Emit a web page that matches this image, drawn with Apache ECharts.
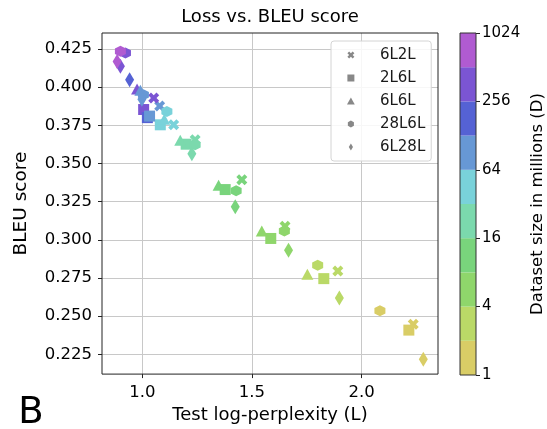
<!DOCTYPE html>
<html>
<head>
<meta charset="utf-8">
<script src="https://cdn.jsdelivr.net/npm/echarts@6/dist/echarts.min.js"></script>
<style>
  html, body { margin: 0; padding: 0; background: #fff; }
  #chart { width: 547px; height: 429px; }
</style>
</head>
<body>
<div id="chart"></div>
<script>
// Model variants (encoder/decoder depth) shown in the legend
const modelNames = ['6L2L', '2L6L', '6L6L', '28L6L', '6L28L'];

// Each point: [test log-perplexity L, BLEU score, dataset size D in millions]
const points6L2L = [
  [2.236, 0.2448, 1.5], [1.892, 0.2796, 3], [1.651, 0.3089, 6], [1.454, 0.3394, 12],
  [1.241, 0.3655, 24], [1.143, 0.3753, 48], [1.079, 0.3876, 96], [1.052, 0.3929, 384]
];
const points2L6L = [
  [2.216, 0.2409, 1.5], [1.828, 0.2746, 3], [1.586, 0.3009, 6], [1.378, 0.3329, 12],
  [1.200, 0.3626, 24], [1.082, 0.3753, 48], [1.006, 0.3853, 384], [1.023, 0.3800, 192],
  [1.033, 0.3810, 96]
];
const points6L6L = [
  [1.753, 0.2774, 3], [1.545, 0.3057, 6], [1.348, 0.3357, 12], [1.173, 0.3652, 24],
  [1.100, 0.3790, 48], [0.976, 0.3988, 384], [0.991, 0.3980, 96]
];
const points28L6L = [
  [2.084, 0.2535, 1.5], [1.800, 0.2833, 3], [1.648, 0.3058, 6], [1.428, 0.3322, 12],
  [1.241, 0.3622, 24], [1.112, 0.3840, 48], [1.005, 0.3950, 96], [0.923, 0.4223, 384],
  [0.900, 0.4234, 768]
];
const points6L28L = [
  [2.282, 0.2219, 1.5], [1.899, 0.2619, 3], [1.667, 0.2931, 6], [1.424, 0.3216, 12],
  [1.226, 0.3563, 24], [0.998, 0.3920, 96], [0.942, 0.4048, 192], [0.900, 0.4136, 384],
  [0.885, 0.4168, 768]
];
const modelPoints = [points6L2L, points2L6L, points6L6L, points28L6L, points6L28L];

// Axis ticks
const lossTicks = [1.0, 1.5, 2.0];
const bleuTicks = [0.225, 0.250, 0.275, 0.300, 0.325, 0.350, 0.375, 0.400, 0.425];

// Colour bar: dataset-size band edges (millions) and one colour per band
const sizeEdges = [1, 2, 4, 8, 16, 32, 64, 128, 256, 512, 1024];
const sizeTickLabels = [1, 4, 16, 64, 256, 1024];
const bandColors = ['#d9cd66', '#bad967', '#8fd66b', '#79d47c', '#7bd9ad',
                    '#79d2da', '#6798d5', '#5562d4', '#7b55d3', '#b05bd1'];

// Marker shapes, one per model
const markerPaths = {
  '6L2L': 'path://M1,0 L2,1 L3,0 L4,1 L3,2 L4,3 L3,4 L2,3 L1,4 L0,3 L1,2 L0,1 Z',
  '2L6L': 'path://M0,0 L10,0 L10,10 L0,10 Z',
  '6L6L': 'path://M1,0 L2,1.8 L0,1.8 Z',
  '28L6L': 'path://M50,0 L93.3,25 L93.3,75 L50,100 L6.7,75 L6.7,25 Z',
  '6L28L': 'path://M3,0 L6,5 L3,10 L0,5 Z'
};
const markerSizes = {
  '6L2L': [11, 11], '2L6L': [11, 11], '6L6L': [12, 11], '28L6L': [11, 11], '6L28L': [9, 15]
};

const log2 = v => Math.log(v) / Math.LN2;
const colorForSize = d => {
  for (let i = 0; i < sizeEdges.length - 1; i++) {
    if (d >= sizeEdges[i] && d < sizeEdges[i + 1]) return bandColors[i];
  }
  return bandColors[bandColors.length - 1];
};

const FONT = 'DejaVu Sans';
const chart = echarts.init(document.getElementById('chart'), null, { renderer: 'canvas' });

const scatterSeries = modelNames.map((name, i) => ({
  name: name,
  type: 'scatter',
  xAxisIndex: 0,
  yAxisIndex: 0,
  symbol: markerPaths[name],
  symbolSize: markerSizes[name],
  symbolKeepAspect: false,
  data: modelPoints[i],
  itemStyle: { color: p => colorForSize(p.value[2]), opacity: 1 },
  emphasis: { disabled: true },
  z: 3
}));

const colorbarSeries = bandColors.map((c, i) => ({
  type: 'bar',
  stack: 'bands',
  xAxisIndex: 1,
  yAxisIndex: 1,
  barWidth: '100%',
  data: [log2(sizeEdges[i + 1]) - log2(sizeEdges[i])],
  itemStyle: { color: c },
  silent: true
}));

chart.setOption({
  animation: false,
  textStyle: { fontFamily: FONT },
  graphic: [
    { type: 'text', x: 270, y: 17, style: { text: 'Loss vs. BLEU score', font: '18px "DejaVu Sans"', fill: '#000', align: 'center', verticalAlign: 'middle' } },
    { type: 'text', x: 31, y: 413, style: { text: 'B', font: '37px "DejaVu Sans"', fill: '#000', align: 'center', verticalAlign: 'middle' } }
  ],
  legend: {
    orient: 'vertical',
    left: 331,
    top: 41,
    padding: [6, 6, 6, 16],
    itemWidth: 22,
    itemHeight: 7,
    itemGap: 7,
    backgroundColor: 'rgba(255,255,255,0.85)',
    borderColor: '#d4d4d4',
    borderWidth: 1,
    borderRadius: 3,
    textStyle: { fontFamily: FONT, fontSize: 15, color: '#1a1a1a', padding: [0, 0, 0, 13], lineHeight: 16 },
    data: modelNames.map(n => ({ name: n, icon: markerPaths[n], itemStyle: { color: '#888888' } })),
    selectedMode: false
  },
  grid: [
    { left: 102, right: 109, top: 33, bottom: 54, show: true, borderColor: '#222', borderWidth: 1, z: 4, backgroundColor: 'transparent' },
    { left: 460, width: 17, top: 33, bottom: 54, show: true, borderColor: '#333', borderWidth: 1, z: 5, backgroundColor: 'transparent' }
  ],
  xAxis: [
    {
      type: 'value', gridIndex: 0, min: 0.816, max: 2.349,
      name: 'Test log-perplexity (L)', nameLocation: 'middle', nameGap: 29,
      nameTextStyle: { fontFamily: FONT, fontSize: 18, color: '#000' },
      axisLine: { show: false },
      axisTick: { show: true, length: 4, lineStyle: { color: '#222' }, customValues: lossTicks },
      axisLabel: { fontFamily: FONT, fontSize: 16.5, color: '#000', margin: 10, customValues: lossTicks, formatter: v => v.toFixed(1) },
      splitLine: { show: true, lineStyle: { color: '#c8c8c8', width: 1 } }
    },
    {
      type: 'category', gridIndex: 1, data: ['D'],
      axisLine: { show: false }, axisTick: { show: false }, axisLabel: { show: false }, splitLine: { show: false }
    }
  ],
  yAxis: [
    {
      type: 'value', gridIndex: 0, min: 0.2121, max: 0.4354,
      name: 'BLEU score', nameLocation: 'middle', nameGap: 71,
      nameTextStyle: { fontFamily: FONT, fontSize: 18.5, color: '#000' },
      axisLine: { show: false },
      axisTick: { show: true, length: 4, lineStyle: { color: '#222' }, customValues: bleuTicks },
      axisLabel: { fontFamily: FONT, fontSize: 16.5, color: '#000', margin: 10, customValues: bleuTicks, formatter: v => v.toFixed(3) },
      splitLine: { show: true, lineStyle: { color: '#c8c8c8', width: 1 } }
    },
    {
      type: 'value', gridIndex: 1, position: 'right', min: 0, max: 10, interval: 2,
      name: 'Dataset size in millions (D)', nameLocation: 'middle', nameGap: 53, nameRotate: 90,
      nameTextStyle: { fontFamily: FONT, fontSize: 16.5, color: '#000' },
      axisLine: { show: false },
      axisTick: { show: true, length: 4, lineStyle: { color: '#222' } },
      axisLabel: { fontFamily: FONT, fontSize: 15, color: '#000', margin: 6,
        formatter: v => { const s = Math.round(Math.pow(2, v)); return sizeTickLabels.indexOf(s) >= 0 ? String(s) : ''; } },
      splitLine: { show: false }
    }
  ],
  series: scatterSeries.concat(colorbarSeries)
});
</script>
</body>
</html>
